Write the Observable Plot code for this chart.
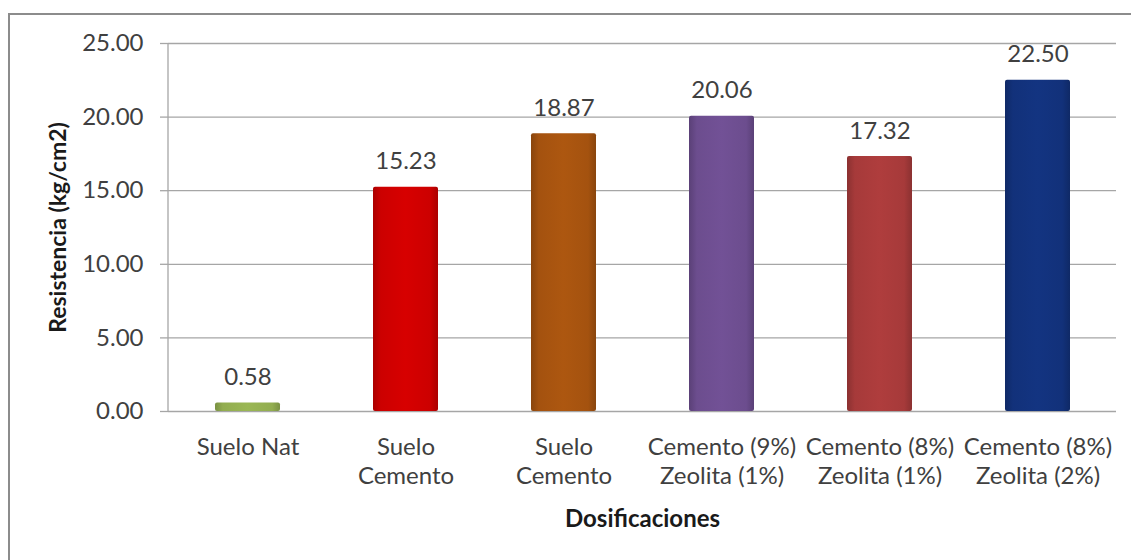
<!DOCTYPE html>
<html>
<head>
<meta charset="utf-8">
<script src="https://cdn.jsdelivr.net/npm/d3@7"></script>
<script src="https://cdn.jsdelivr.net/npm/@observablehq/plot@0.6"></script>
<style>
  html, body { margin: 0; padding: 0; background: #fff; width: 1131px; height: 560px; overflow: hidden; }
  #frame { position: absolute; left: 8px; top: 13px; width: 1200px; height: 600px;
           border-left: 2px solid #8c8c8c; border-top: 2px solid #8c8c8c; box-sizing: border-box; }
  #chart { position: absolute; left: 0; top: 0; }
</style>
</head>
<body>
<div id="frame"></div>
<div id="chart"></div>
<script>
const categories = ["Suelo Nat", "Suelo\nCemento", "Suelo\nCemento", "Cemento (9%)\nZeolita (1%)", "Cemento (8%)\nZeolita (1%)", "Cemento (8%)\nZeolita (2%)"];
const values = [0.58, 15.23, 18.87, 20.06, 17.32, 22.50];
const baseColors = ["#92ad50", "#cc0000", "#a4520f", "#6c4d8e", "#a63a3a", "#12317a"];
const yTicks = [0, 5, 10, 15, 20, 25];
const yTitle = "Resistencia (kg/cm2)";
const xTitle = "Dosificaciones";

const data = values.map((v, i) => ({i, v}));
const gradIds = baseColors.map((c, i) => "barGrad" + i);

const plot = Plot.plot({
  width: 1131,
  height: 560,
  marginLeft: 168,
  marginRight: 15,
  marginTop: 43,
  marginBottom: 149,
  style: {fontFamily: "Lato, 'Open Sans', sans-serif", fontSize: "24px", color: "#404040", background: "transparent", overflow: "visible"},
  x: {domain: d3.range(categories.length), paddingInner: 0.59, paddingOuter: 0.295},
  y: {domain: [0, 25]},
  color: {domain: d3.range(categories.length), range: gradIds.map(id => `url(#${id})`)},
  marks: [
    Plot.gridY(yTicks, {stroke: "#a6a6a6", strokeOpacity: 1, strokeWidth: 1.3}),
    Plot.axisY(yTicks, {tickSize: 8, tickPadding: 17, stroke: "#a6a6a6", strokeWidth: 1.3, tickFormat: d => d.toFixed(2), label: null, fill: "#404040"}),
    Plot.axisX({tickSize: 0, tickPadding: 23, tickFormat: i => categories[i], lineHeight: 1.2, label: null, fill: "#404040"}),
    Plot.barY(data, {x: "i", y: "v", fill: "i", rx: 2}),
    Plot.text(data, {x: "i", y: "v", text: d => d.v.toFixed(2), lineAnchor: "bottom", dy: -18, fill: "#404040"}),
    Plot.text([yTitle], {frameAnchor: "left", textAnchor: "middle", rotate: -90, dx: -110, fontWeight: "bold", fontSize: 23, fill: "#1a1a1a"}),
    Plot.text([xTitle], {frameAnchor: "bottom", textAnchor: "middle", dy: 115, fontWeight: "bold", fontSize: 24, fill: "#1a1a1a"})
  ]
});

const svg = d3.select(plot);
const defs = svg.insert("defs", ":first-child");
baseColors.forEach((c, i) => {
  const base = d3.color(c);
  const g = defs.append("linearGradient").attr("id", gradIds[i]).attr("x1", 0).attr("x2", 1).attr("y1", 0).attr("y2", 0);
  g.append("stop").attr("offset", "0%").attr("stop-color", base.darker(0.5));
  g.append("stop").attr("offset", "12%").attr("stop-color", base);
  g.append("stop").attr("offset", "50%").attr("stop-color", base.brighter(0.15));
  g.append("stop").attr("offset", "88%").attr("stop-color", base);
  g.append("stop").attr("offset", "100%").attr("stop-color", base.darker(0.5));
});
// vertical axis line on the left edge of the plot area
const xr = plot.scale("x").range, yr = plot.scale("y").range;
svg.append("line")
  .attr("x1", xr[0]).attr("x2", xr[0])
  .attr("y1", yr[0]).attr("y2", yr[1])
  .attr("stroke", "#a6a6a6").attr("stroke-width", 1.3);

document.getElementById("chart").appendChild(plot);
</script>
</body>
</html>
